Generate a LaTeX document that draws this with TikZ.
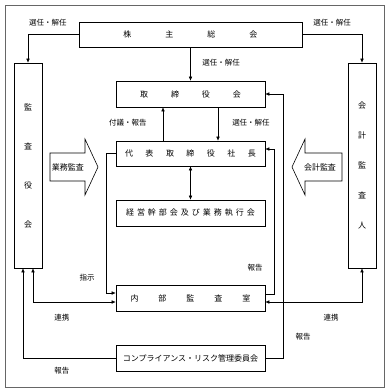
\documentclass[tikz,border=0pt]{standalone}
\usepackage{fontspec}
\newfontfamily\jp{Noto Sans CJK JP}
\usepackage{tikz}
\usetikzlibrary{arrows.meta, positioning, calc}
\newcommand{\kgap}[1]{\hspace{#1pt}}

\begin{document}
\begin{tikzpicture}[x=1pt, y=-1pt, font=\jp\fontsize{8}{10}\selectfont,
        box/.style={draw, line width=0.6pt, inner sep=0pt, minimum width=149pt,
          minimum height=26pt, align=center},
        vbox/.style={draw, line width=0.6pt, inner sep=0pt, minimum width=28pt,
          minimum height=205pt, align=center},
        lbl/.style={font=\jp\fontsize{7.5}{9}\selectfont, inner sep=0pt},
        arr/.style={-{Latex[length=4pt,width=3.5pt]}, line width=0.5pt},
        arrs/.style={{Latex[length=4pt,width=3.5pt]}-{Latex[length=4pt,width=3.5pt]}, line width=0.5pt},
        bigarr/.style={draw, line width=0.6pt}]
        \useasboundingbox (0,0) rectangle (390,392);
        \draw[gray!80!black, line width=1pt] (5,5) rectangle (384,387);
        % boxes
        \node[box, minimum width=223pt, minimum height=25pt] (soukai) at (190.5,34.5)
          {株\kgap{34}主\kgap{34}総\kgap{34}会};
        \node[box] (torishimari) at (190.5,94) {取\kgap{23}締\kgap{23}役\kgap{23}会};
        \node[box, minimum height=25pt] (daihyo) at (190.5,153.5)
          {代\kgap{12.5}表\kgap{12.5}取\kgap{12.5}締\kgap{12.5}役\kgap{12.5}社\kgap{12.5}長};
        \node[box] (keiei) at (190.5,213)
          {経\kgap{3}営\kgap{3}幹\kgap{3}部\kgap{3}会\kgap{3}及\kgap{3}び\kgap{3}業\kgap{3}務\kgap{3}執\kgap{3}行\kgap{3}会};
        \node[box] (naibu) at (190.5,298) {内\kgap{20}部\kgap{20}監\kgap{20}査\kgap{20}室};
        \node[box] (compliance) at (190.5,358) {コンプライアンス・リスク管理委員会};
        \node[vbox, font=\jp\fontsize{8}{39}\selectfont] (kansayaku) at (28,165.5)
          {監\\査\\役\\会};
        \node[vbox, font=\jp\fontsize{8}{30}\selectfont] (kaikei) at (362,165.5)
          {会\\計\\監\\査\\人};
        % audit arrows
        \draw[bigarr] (50,153) -- (85,153) -- (85,139) -- (98,167) -- (85,195)
          -- (85,181) -- (50,181) -- cycle;
        \node[inner sep=0pt] (gyoumu) at (68,167) {業務監査};
        \draw[bigarr] (342,153) -- (305,153) -- (305,139) -- (292,167) -- (305,195)
          -- (305,181) -- (342,181) -- cycle;
        \node[inner sep=0pt] (kaikeikansa) at (320,167) {会計監査};
        % connectors
        \draw[arr] (soukai.west) -| (kansayaku.north);
        \draw[arr] (soukai.east) -| (kaikei.north);
        \draw[arr] (soukai.south) -- (torishimari.north);
        \draw[arr] ([xshift=-27.5pt]daihyo.north) -- ([xshift=-27.5pt]torishimari.south);
        \draw[arr] ([xshift=27.5pt]torishimari.south) -- ([xshift=27.5pt]daihyo.north);
        \draw[arrs] (daihyo.south) -- (keiei.north);
        \draw[arr] (daihyo.west) -- ++(-9,0) |- ([yshift=5pt]naibu.west);
        \draw[arrs] ([xshift=5pt]kansayaku.south) |- ([yshift=-4pt]naibu.west);
        \draw[arrs] ([yshift=-4pt]naibu.east) -| (kaikei.south);
        \draw[arr] ([yshift=4pt]naibu.east) -- ++(9,0) |- ([yshift=4.5pt]daihyo.east);
        \draw[arr] (compliance.east) -- ++(18,0) |- (torishimari.east);
        \draw[arr] (compliance.west) -| ([xshift=-5pt]kansayaku.south);
        % labels
        \node[lbl] (l1) at (48,23) {選任・解任};
        \node[lbl] (l2) at (332,23) {選任・解任};
        \node[lbl] (l3) at (221,63) {選任・解任};
        \node[lbl] (l4) at (128,123) {付議・報告};
        \node[lbl] (l5) at (251,123) {選任・解任};
        \node[lbl] (l6) at (87,278) {指示};
        \node[lbl] (l7) at (255,268) {報告};
        \node[lbl] (l8) at (62,318) {連携};
        \node[lbl] (l9) at (331,318) {連携};
        \node[lbl] (l10) at (303,337) {報告};
        \node[lbl] (l11) at (62,371) {報告};
      \end{tikzpicture}
\end{document}
